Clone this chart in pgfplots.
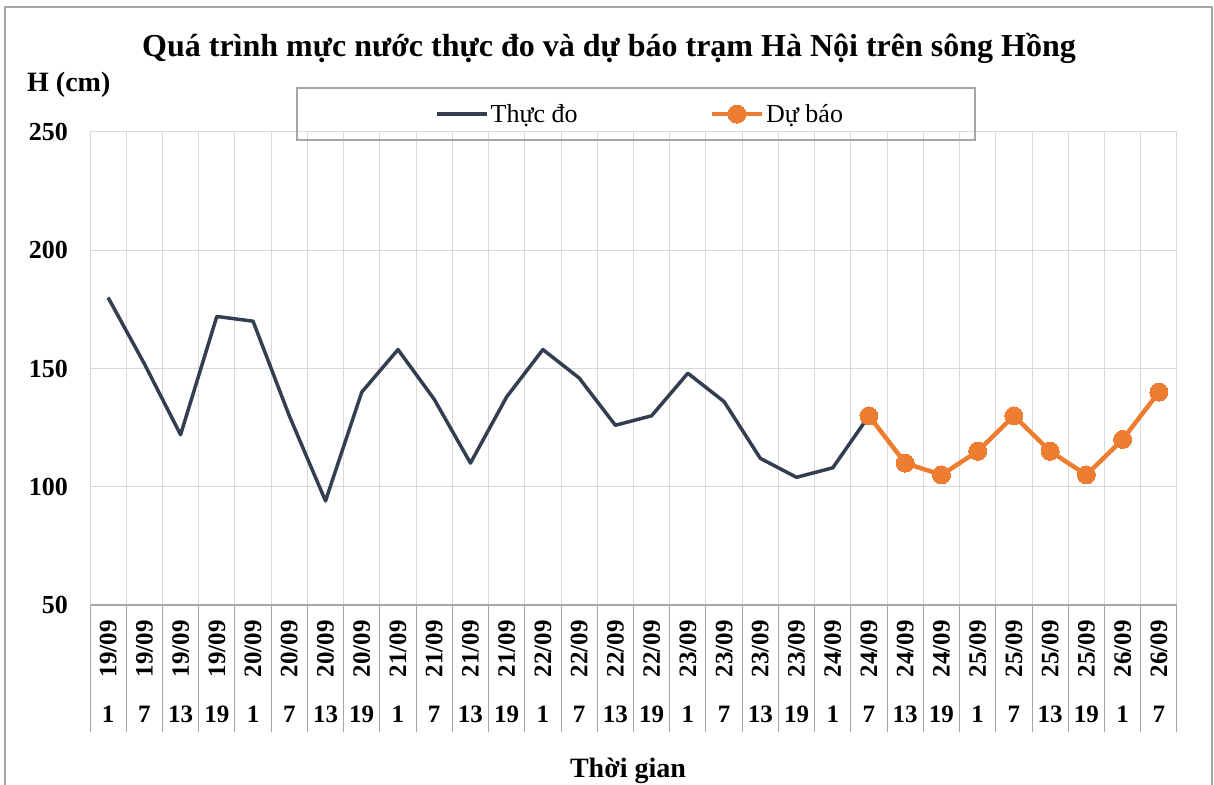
\documentclass[border=0pt]{standalone}
\usepackage{graphicx}
\usepackage{pgfplots}
\pgfplotsset{compat=1.18}
\usepackage{fontspec}
\setmainfont{Liberation Serif}
\definecolor{obs}{HTML}{333F50}
\definecolor{fc}{HTML}{ED7D31}
\definecolor{gridc}{HTML}{D9D9D9}
\definecolor{axc}{HTML}{A6A6A6}
\newcommand{\dl}[2]{\rotatebox{90}{#1}\\[15bp]#2}
\begin{document}
\begin{tikzpicture}
\useasboundingbox (0bp,0bp) rectangle (1214bp,785bp);
\draw[axc, line width=1.2bp] (5bp,0bp) -- (5bp,778bp) -- (1212bp,778bp) -- (1212bp,0bp);
\begin{axis}[
  at={(90bp,180bp)}, anchor=south west,
  scale only axis, width=1087bp, height=473bp,
  xmin=-0.5, xmax=29.5, ymin=50, ymax=250,
  ytick={50,100,150,200,250},
  xtick={0,...,29},
  xticklabels={{\dl{19/09}{1}},{\dl{19/09}{7}},{\dl{19/09}{13}},{\dl{19/09}{19}},
               {\dl{20/09}{1}},{\dl{20/09}{7}},{\dl{20/09}{13}},{\dl{20/09}{19}},
               {\dl{21/09}{1}},{\dl{21/09}{7}},{\dl{21/09}{13}},{\dl{21/09}{19}},
               {\dl{22/09}{1}},{\dl{22/09}{7}},{\dl{22/09}{13}},{\dl{22/09}{19}},
               {\dl{23/09}{1}},{\dl{23/09}{7}},{\dl{23/09}{13}},{\dl{23/09}{19}},
               {\dl{24/09}{1}},{\dl{24/09}{7}},{\dl{24/09}{13}},{\dl{24/09}{19}},
               {\dl{25/09}{1}},{\dl{25/09}{7}},{\dl{25/09}{13}},{\dl{25/09}{19}},
               {\dl{26/09}{1}},{\dl{26/09}{7}}},
  minor xtick={-0.5,0.5,...,29.5},
  axis x line*=bottom, axis y line*=left,
  x axis line style={draw=axc, line width=1.2bp},
  y axis line style={draw=gridc, line width=1bp},
  tick align=outside,
  xtick pos=bottom, ytick pos=left,
  major tick length=0pt,
  minor tick length=127bp,
  minor x tick style={draw=axc, line width=1bp},
  xminorgrids=true, ymajorgrids=true, xmajorgrids=false,
  minor x grid style={draw=gridc, line width=1bp},
  major y grid style={draw=gridc, line width=1bp},
  /pgf/number format/assume math mode=true,
  yticklabel style={font=\fontsize{26bp}{30bp}\selectfont\bfseries, inner sep=0pt, xshift=-22bp},
  xticklabel style={font=\fontsize{25bp}{30bp}\selectfont\bfseries, inner sep=0pt, align=center, anchor=north, yshift=-15bp},
  legend columns=2,
  legend cell align=left,
  legend style={at={(0.3146,1.038)}, anchor=west, draw=none, fill=none,
    font=\fontsize{26bp}{30bp}\selectfont,
    /tikz/every even column/.append style={column sep=130bp}},
  legend image code/.code={\draw[mark repeat=2,mark phase=2,#1] plot coordinates {(0bp,0bp) (25bp,0bp) (50bp,0bp)};},
  clip=false,
]
\addplot[obs, line width=3.5bp, line join=round, mark=none] coordinates {
  (0,180) (1,152) (2,122) (3,172) (4,170) (5,130) (6,94) (7,140) (8,158) (9,137)
  (10,110) (11,138) (12,158) (13,146) (14,126) (15,130) (16,148) (17,136) (18,112) (19,104)
  (20,108) (21,130)};
\addlegendentry{Thực đo}
\addplot[fc, line width=4.5bp, line join=round, mark=*, mark size=9bp, mark options={fill=fc, draw=fc, line width=0pt}] coordinates {
  (21,130) (22,110) (23,105) (24,115) (25,130) (26,115) (27,105) (28,120) (29,140)};
\addlegendentry{Dự báo}
\end{axis}
\draw[axc, line width=1.2bp] (297bp,645bp) rectangle (975bp,697bp);
\node[anchor=base, inner sep=0pt, font=\fontsize{32bp}{38bp}\selectfont\bfseries] at (609bp,728bp) {Quá trình mực nước thực đo và dự báo trạm Hà Nội trên sông Hồng};
\node[anchor=base west, inner sep=0pt, font=\fontsize{28bp}{32bp}\selectfont\bfseries] at (27bp,693bp) {H (cm)};
\node[anchor=base, inner sep=0pt, font=\fontsize{28bp}{32bp}\selectfont\bfseries] at (628bp,8bp) {Thời gian};
\end{tikzpicture}
\end{document}
